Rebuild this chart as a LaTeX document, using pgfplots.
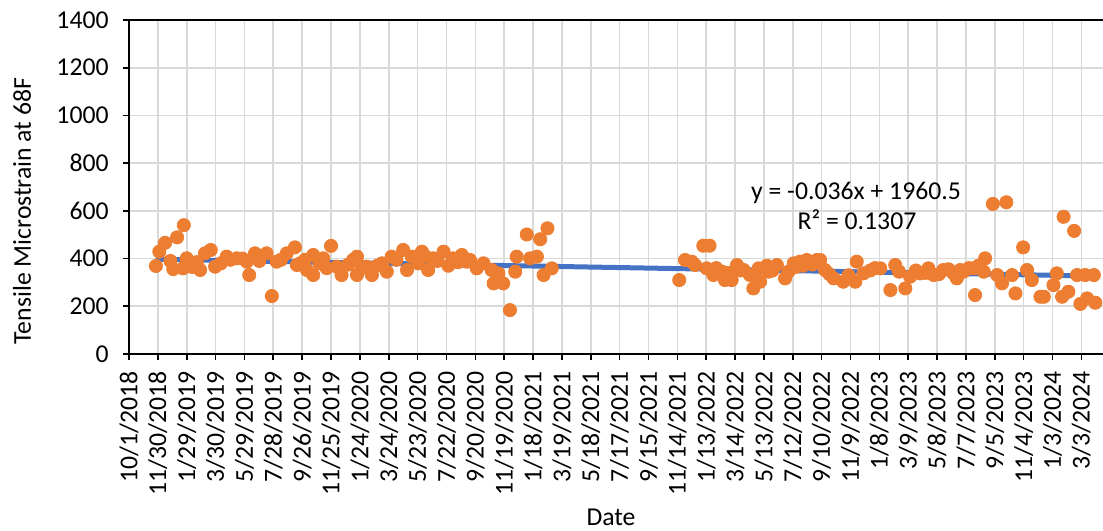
\documentclass[border=0pt]{standalone}
\usepackage{pgfplots}
\pgfplotsset{compat=1.18}
\usepackage{fontspec}
\setmainfont{Carlito}
\definecolor{xlorange}{HTML}{ED7D31}
\definecolor{xlblue}{HTML}{4472C4}
\definecolor{xlgrid}{HTML}{D9D9D9}
\newcommand{\xlfont}{\fontsize{12.9}{15}\selectfont}
\begin{document}
\begin{tikzpicture}
\useasboundingbox (-64.5bp,-88.5bp) rectangle (487bp,177bp);
\begin{axis}[
  scale only axis, width=487bp, height=167bp,
  xmin=43374, xmax=45399, ymin=0, ymax=1400,
  scaled x ticks=false, scaled y ticks=false,
  xtick={43374,43434,...,45354},
  xticklabels={10/1/2018,11/30/2018,1/29/2019,3/30/2019,5/29/2019,7/28/2019,9/26/2019,11/25/2019,1/24/2020,3/24/2020,5/23/2020,7/22/2020,9/20/2020,11/19/2020,1/18/2021,3/19/2021,5/18/2021,7/17/2021,9/15/2021,11/14/2021,1/13/2022,3/14/2022,5/13/2022,7/12/2022,9/10/2022,11/9/2022,1/8/2023,3/9/2023,5/8/2023,7/7/2023,9/5/2023,11/4/2023,1/3/2024,3/3/2024},
  ytick={0,200,...,1400},
  xtick pos=left, ytick pos=left,
  tick align=outside, major tick length=3bp,
  tick style={black, line width=0.8pt},
  grid=major, major grid style={xlgrid, line width=0.8pt},
  axis line style={draw=none},
  /pgf/number format/assume math mode=true,
  /pgf/number format/1000 sep={},
  tick label style={font=\xlfont, black},
  xticklabel style={rotate=90, anchor=east, inner sep=0pt},
  xticklabel shift=5.5bp,
  yticklabel style={inner sep=0pt},
  yticklabel shift=7bp,
  clip=false,
]
\draw[black, line width=1pt] (rel axis cs:0,1) -- (rel axis cs:0,0) -- (rel axis cs:1,0);
\draw[black, line width=1pt] (rel axis cs:0,1) -- (rel axis cs:1,1);
\addplot[only marks, mark=*, mark size=3.3bp, color=xlorange, mark options={fill=xlorange, draw=xlorange}] table {
x y
43430 369
43437 429
43449 466
43474 489
43488 540
43466 356
43494 401
43486 359
43460 390
43505 365
43515 385
43522 352
43532 422
43544 436
43553 366
43565 380
43577 408
43585 395
43598 401
43610 400
43619 387
43624 331
43636 422
43645 390
43660 422
43671 243
43681 387
43690 395
43702 422
43719 447
43723 373
43730 380
43740 395
43744 352
43757 415
43757 331
43770 380
43778 401
43785 360
43794 453
43806 366
43816 331
43830 375
43840 395
43848 408
43848 331
43858 360
43868 366
43879 331
43890 370
43900 380
43910 345
43920 408
43930 395
43944 436
43952 352
43962 408
43975 380
43983 429
43990 410
43996 352
44007 401
44015 390
44028 429
44038 370
44048 401
44058 385
44066 415
44076 387
44083 394
44097 359
44111 380
44128 352
44132 296
44142 338
44152 296
44166 184
44177 345
44180 408
44201 501
44208 401
44222 408
44229 481
44236 331
44244 527
44253 359
44518 310
44530 394
44544 387
44551 373
44568 454
44581 454
44575 359
44589 331
44595 360
44607 345
44613 310
44620 340
44627 310
44638 373
44645 350
44652 352
44665 331
44672 275
44683 359
44686 303
44700 370
44704 345
44712 350
44721 373
44738 317
44745 345
44756 380
44760 365
44769 387
44775 370
44783 394
44790 387
44795 375
44804 394
44811 394
44821 352
44830 335
44839 317
44859 303
44870 330
44884 303
44887 387
44901 338
44915 350
44925 360
44936 359
44957 268
44967 373
44975 345
44988 275
44998 324
45010 350
45019 338
45030 340
45036 359
45047 331
45058 335
45067 352
45078 355
45088 338
45095 317
45102 352
45109 345
45120 360
45130 359
45133 247
45140 370
45151 345
45154 401
45170 629
45179 331
45189 296
45198 636
45210 331
45217 254
45233 447
45241 352
45251 310
45269 240
45276 240
45296 289
45303 338
45314 240
45317 575
45327 261
45339 516
45345 331
45352 210
45362 331
45366 233
45380 331
45383 215
};
\addplot[xlblue, line width=2.5bp] coordinates {(43430,397.0) (45383,326.7)};
\end{axis}
\node[rotate=90, font=\xlfont] at (-53.5bp,71.5bp) {Tensile Microstrain at 68F};
\node[font=\xlfont] at (241bp,-81.5bp) {Date};
\node[font=\xlfont] at (363.5bp,80.5bp) {y = -0.036x + 1960.5};
\node[font=\xlfont] at (364bp,67bp) {R² = 0.1307};
\end{tikzpicture}
\end{document}
